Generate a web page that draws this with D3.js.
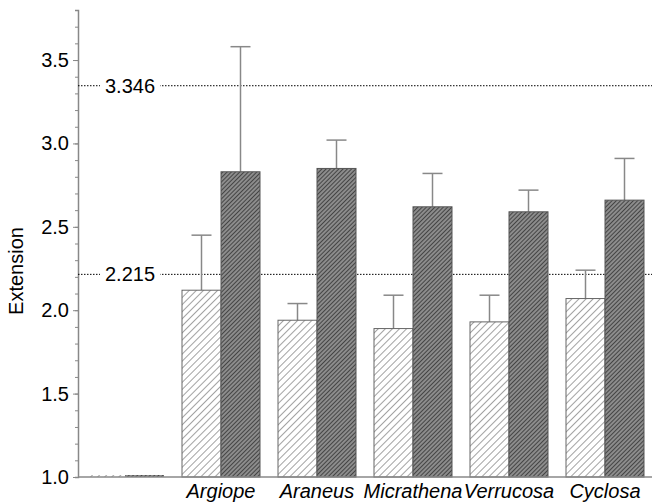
<!DOCTYPE html>
<meta charset="utf-8">
<style>
body { margin: 0; background: #fff; }
text { font-family: "Liberation Sans", Arial, sans-serif; }
</style>
<body>
<script src="https://cdn.jsdelivr.net/npm/d3@7"></script>
<script>

var genera = ["", "Argiope", "Araneus", "Micrathena", "Verrucosa", "Cyclosa"];
var lightValues = [1.012, 2.12, 1.94, 1.89, 1.93, 2.07];
var lightErrors = [0, 0.33, 0.10, 0.20, 0.16, 0.17];
var darkValues  = [1.012, 2.83, 2.85, 2.62, 2.59, 2.66];
var darkErrors  = [0, 0.75, 0.17, 0.20, 0.13, 0.25];
var refLines = [3.346, 2.215];
var yTicks = [1.0, 1.5, 2.0, 2.5, 3.0, 3.5];

var width = 652, height = 503;

var svg = d3.select("body").append("svg")
    .attr("width", width)
    .attr("height", height);

var defs = svg.append("defs");

var light = defs.append("pattern")
    .attr("id", "hatch-light")
    .attr("patternUnits", "userSpaceOnUse")
    .attr("width", 5).attr("height", 5)
    .attr("patternTransform", "rotate(45)");
light.append("rect").attr("width", 5).attr("height", 5).attr("fill", "#fff");
light.append("line").attr("x1", 0).attr("y1", 0).attr("x2", 0).attr("y2", 5)
    .attr("stroke", "#707070").attr("stroke-width", 1.3);

var dark = defs.append("pattern")
    .attr("id", "hatch-dark")
    .attr("patternUnits", "userSpaceOnUse")
    .attr("width", 3).attr("height", 3)
    .attr("patternTransform", "rotate(45)");
dark.append("rect").attr("width", 3).attr("height", 3).attr("fill", "#8c8c8c");
dark.append("line").attr("x1", 0).attr("y1", 0).attr("x2", 0).attr("y2", 3)
    .attr("stroke", "#333").attr("stroke-width", 1.6);

var x = d3.scaleBand()
    .domain(genera.map(function(d, i) { return i; }))
    .range([77, 653])
    .paddingInner(0.1875)
    .paddingOuter(0.09375);

var y = d3.scaleLinear()
    .domain([1.0, 3.8])
    .range([477, 10]);

var half = x.bandwidth() / 2;

// y axis with minor ticks
var yAxisG = svg.append("g")
    .attr("transform", "translate(78,0)")
    .call(d3.axisLeft(y).tickValues(d3.range(10, 39).map(function(v) { return v / 10; }))
        .tickSize(3).tickFormat(""));
yAxisG.select(".domain").attr("stroke", "#888").attr("stroke-width", 1.5);
yAxisG.selectAll(".tick line").attr("stroke", "#888");

var yMajor = svg.append("g")
    .attr("transform", "translate(78,0)")
    .call(d3.axisLeft(y).tickValues(yTicks).tickSize(5).tickPadding(4).tickFormat(d3.format(".1f")));
yMajor.select(".domain").remove();
yMajor.selectAll(".tick line").attr("stroke", "#888");
yMajor.selectAll(".tick text")
    .attr("fill", "#000")
    .style("font-size", "20px")
    .style("font-family", "'Liberation Sans', Arial, sans-serif");

svg.append("text")
    .attr("transform", "translate(23,271) rotate(-90)")
    .attr("text-anchor", "middle")
    .style("font-size", "20px")
    .text("Extension");

// reference lines
refLines.forEach(function(v) {
  svg.append("line")
      .attr("x1", 78).attr("x2", 652)
      .attr("y1", y(v)).attr("y2", y(v))
      .attr("stroke", "#000")
      .attr("stroke-width", 1)
      .attr("stroke-dasharray", "1.5,1.5");
});

var groups = svg.append("g").selectAll("g")
    .data(genera)
  .enter().append("g")
    .attr("transform", function(d, i) { return "translate(" + x(i) + ",0)"; });

// error bars (drawn below the bars)
function errorBar(values, errors, offset) {
  groups.each(function(d, i) {
    if (!(errors[i] > 0)) return;
    var g = d3.select(this);
    var cx = offset + half / 2;
    g.append("line")
        .attr("x1", cx).attr("x2", cx)
        .attr("y1", y(values[i])).attr("y2", y(values[i] + errors[i]))
        .attr("stroke", "#888").attr("stroke-width", 1.5);
    g.append("line")
        .attr("x1", cx - 10).attr("x2", cx + 10)
        .attr("y1", y(values[i] + errors[i])).attr("y2", y(values[i] + errors[i]))
        .attr("stroke", "#888").attr("stroke-width", 1.5);
  });
}
errorBar(lightValues, lightErrors, 0);
errorBar(darkValues, darkErrors, half);

groups.append("rect")
    .attr("x", 0)
    .attr("y", function(d, i) { return y(lightValues[i]); })
    .attr("width", half)
    .attr("height", function(d, i) { return y(1) - y(lightValues[i]); })
    .attr("fill", "url(#hatch-light)")
    .attr("stroke", function(d, i) { return i === 0 ? "none" : "#666"; })
    .attr("stroke-width", 1);

groups.append("rect")
    .attr("x", half)
    .attr("y", function(d, i) { return y(darkValues[i]); })
    .attr("width", half)
    .attr("height", function(d, i) { return y(1) - y(darkValues[i]); })
    .attr("fill", "url(#hatch-dark)")
    .attr("stroke", function(d, i) { return i === 0 ? "none" : "#555"; })
    .attr("stroke-width", 1);

// reference labels with white backing
refLines.forEach(function(v) {
  var label = svg.append("g");
  var t = label.append("text")
      .attr("x", 105)
      .attr("y", y(v))
      .attr("dy", "0.35em")
      .style("font-size", "20px")
      .text(d3.format(".3f")(v));
  var bb = t.node().getBBox();
  label.insert("rect", "text")
      .attr("x", bb.x - 5).attr("y", y(v) - 3)
      .attr("width", bb.width + 10).attr("height", 6)
      .attr("fill", "#fff");
});

// x axis baseline
svg.append("line")
    .attr("x1", 78).attr("x2", 652)
    .attr("y1", y(1)).attr("y2", y(1))
    .attr("stroke", "#888").attr("stroke-width", 1.5);

groups.append("text")
    .attr("x", half)
    .attr("y", 498)
    .attr("text-anchor", "middle")
    .style("font-size", "20px")
    .style("font-style", "italic")
    .text(function(d) { return d; });

</script>
</body>
